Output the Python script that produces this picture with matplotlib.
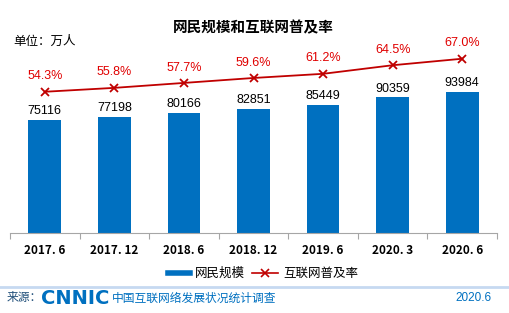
import matplotlib.pyplot as plt
import numpy as np

plt.rcParams['font.family'] = ['Liberation Sans', 'Noto Sans CJK SC', 'DejaVu Sans']

# data
periods = ['2017. 6', '2017. 12', '2018. 6', '2018. 12', '2019. 6', '2020. 3', '2020. 6']
netizens = [75116, 77198, 80166, 82851, 85449, 90359, 93984]
penetration = [54.3, 55.8, 57.7, 59.6, 61.2, 64.5, 67.0]

bar_color = '#0070C0'
line_color = '#C00000'
cjk = ['Noto Sans CJK SC', 'DejaVu Sans']

fig = plt.figure(figsize=(5.10, 3.13), dpi=100)

ax = fig.add_axes([10 / 510, 1 - 233 / 313, 487 / 510, 193 / 313])
ax.patch.set_alpha(0)
x = np.arange(len(periods))
ax.bar(x, netizens, width=0.47, color=bar_color, zorder=2)
ax.set_xlim(-0.5, len(periods) - 0.5)
ax.set_ylim(0, 128500)
for xi, v in zip(x, netizens):
    ax.text(xi, v + 1800, str(v), ha='center', va='bottom', fontsize=9, color='black')

ax2 = ax.twinx()
ax2.plot(x, penetration, color=line_color, marker='x', markersize=6, markeredgewidth=1.3,
         linewidth=1.3, zorder=3)
ax2.set_ylim(0, 74.2)
for xi, v in zip(x, penetration):
    ax2.text(xi, v + 3.6, f'{v:.1f}%', ha='center', va='bottom', fontsize=9, color='#E00000')

for a in (ax, ax2):
    for s in ['top', 'right', 'left']:
        a.spines[s].set_visible(False)
    a.set_yticks([])
ax2.spines['bottom'].set_visible(False)
ax.spines['bottom'].set_color('#A6A6A6')
ax.set_xticks(np.arange(-0.5, len(periods), 1.0), minor=False)
ax.set_xticklabels([])
ax.tick_params(axis='x', which='major', length=4, color='#A6A6A6')
ax.set_xticks(x, minor=True)
ax.set_xticklabels(periods, minor=True, fontsize=8.5, fontweight='bold', family=cjk)
ax.tick_params(axis='x', which='minor', length=0, pad=8)

fig.text(253 / 510, 1 - 27 / 313, '网民规模和互联网普及率', ha='center', va='center',
         fontsize=10.5, fontweight='bold', family=cjk)
fig.text(13 / 510, 1 - 41 / 313, '单位：万人', ha='left', va='center', fontsize=9, family=cjk)

# legend
ly = 1 - 273 / 313
fig.add_artist(plt.Line2D([168 / 510, 190 / 510], [ly, ly], color=bar_color, linewidth=4,
                          transform=fig.transFigure))
fig.text(195 / 510, ly, '网民规模', ha='left', va='center', fontsize=9, family=cjk)
fig.add_artist(plt.Line2D([252 / 510, 278 / 510], [ly, ly], color=line_color, linewidth=1.2,
                          transform=fig.transFigure))
fig.add_artist(plt.Line2D([265 / 510], [ly], color=line_color, marker='x', markersize=6,
                          markeredgewidth=1.2, transform=fig.transFigure))
fig.text(283 / 510, ly, '互联网普及率', ha='left', va='center', fontsize=9, family=cjk)

# footer
fig.add_artist(plt.Line2D([0, 1], [1 - 287 / 313, 1 - 287 / 313], color='#C6D9F1', linewidth=2,
                          transform=fig.transFigure))
fy = 1 - 298 / 313
fig.text(7 / 510, fy, '来源：', ha='left', va='center', fontsize=8.5, color='#1F4E79', family=cjk)
fig.text(41 / 510, fy, 'CNNIC', ha='left', va='center', fontsize=14, fontweight='bold',
         color=bar_color, family=['DejaVu Sans'])
fig.text(112 / 510, fy, '中国互联网络发展状况统计调查', ha='left', va='center', fontsize=8.5,
         color=bar_color, family=cjk)
fig.text(492 / 510, fy, '2020.6', ha='right', va='center', fontsize=8.5, color=bar_color)

fig.savefig('out.png', dpi=100)
